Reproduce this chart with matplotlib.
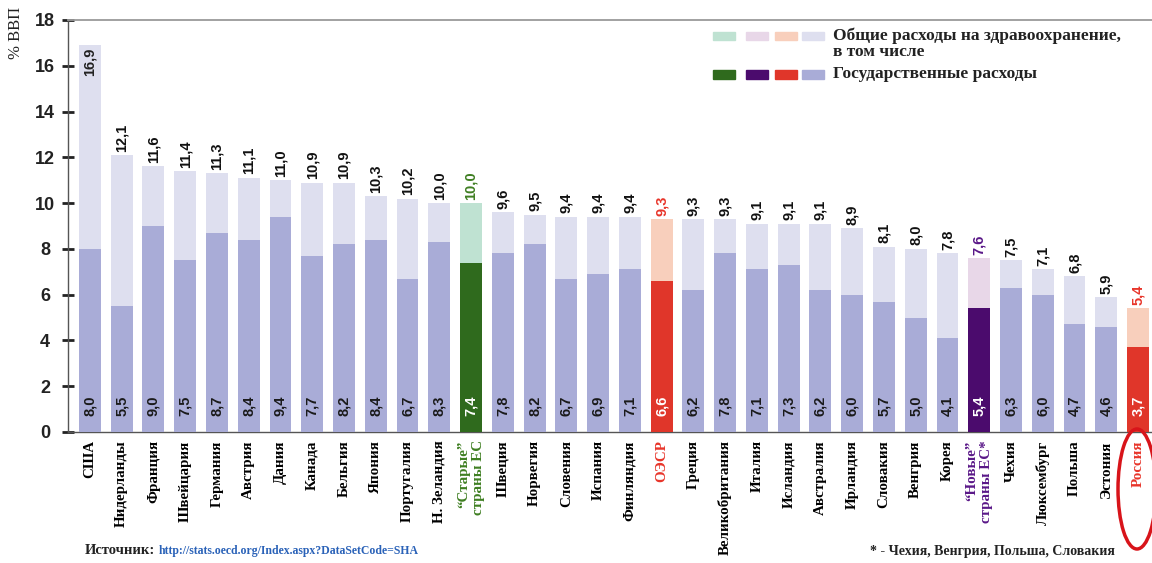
import matplotlib
matplotlib.use("Agg")
import matplotlib.pyplot as plt
from matplotlib.patches import Rectangle, Ellipse

# Health expenditure, % of GDP
countries = [
    "США", "Нидерланды", "Франция", "Швейцария", "Германия", "Австрия",
    "Дания", "Канада", "Бельгия", "Япония", "Португалия", "Н. Зеландия",
    "“Старые”\nстраны ЕС", "Швеция", "Норвегия", "Словения", "Испания",
    "Финляндия", "ОЭСР", "Греция", "Великобритания", "Италия", "Исландия",
    "Австралия", "Ирландия", "Словакия", "Венгрия", "Корея",
    "“Новые”\nстраны ЕС*", "Чехия", "Люксембург", "Польша", "Эстония",
    "Россия",
]
total_spending = [
    16.9, 12.1, 11.6, 11.4, 11.3, 11.1, 11.0, 10.9, 10.9, 10.3, 10.2, 10.0,
    10.0, 9.6, 9.5, 9.4, 9.4, 9.4, 9.3, 9.3, 9.3, 9.1, 9.1, 9.1, 8.9, 8.1,
    8.0, 7.8, 7.6, 7.5, 7.1, 6.8, 5.9, 5.4,
]
public_spending = [
    8.0, 5.5, 9.0, 7.5, 8.7, 8.4, 9.4, 7.7, 8.2, 8.4, 6.7, 8.3,
    7.4, 7.8, 8.2, 6.7, 6.9, 7.1, 6.6, 6.2, 7.8, 7.1, 7.3, 6.2, 6.0, 5.7,
    5.0, 4.1, 5.4, 6.3, 6.0, 4.7, 4.6, 3.7,
]
y_ticks = [0, 2, 4, 6, 8, 10, 12, 14, 16, 18]

# Colour scheme: (total, public, label colour) per group
LAV_TOTAL, LAV_PUBLIC = "#dedfef", "#a9acd7"
highlight = {
    "“Старые”\nстраны ЕС": ("#bfe2d2", "#2f6a1d", "#3f7f22"),
    "ОЭСР": ("#f8cfbc", "#e0362a", "#e8352a"),
    "“Новые”\nстраны ЕС*": ("#e8d7e8", "#4b0b6d", "#5a1888"),
    "Россия": ("#f8cfbc", "#e0362a", "#e8352a"),
}

SERIF = "Liberation Serif"
SANS = "Liberation Sans"

fig = plt.figure(figsize=(11.52, 5.63), dpi=100)
ax = fig.add_axes([68 / 1152, 1 - 432 / 563, 1 - 68 / 1152, 412 / 563])

x = list(range(len(countries)))
tot_colors, pub_colors, lab_colors = [], [], []
for c in countries:
    if c in highlight:
        t, p, l = highlight[c]
    else:
        t, p, l = LAV_TOTAL, LAV_PUBLIC, "#111111"
    tot_colors.append(t)
    pub_colors.append(p)
    lab_colors.append(l)

bw = 0.69
ax.bar(x, total_spending, width=bw, color=tot_colors, zorder=2)
ax.bar(x, public_spending, width=bw, color=pub_colors, zorder=3)

def fmt(v):
    return f"{v:.1f}".replace(".", ",")

for i, (tv, pv) in enumerate(zip(total_spending, public_spending)):
    col = lab_colors[i]
    if tv > 15:
        ax.text(i, tv - 0.1, fmt(tv), rotation=90, ha="center", va="top",
                fontsize=10.5, fontweight="bold", family=SANS,
                color="#222222", zorder=4)
    else:
        ax.text(i, tv + 0.15, fmt(tv), rotation=90, ha="center", va="bottom",
                fontsize=10.5, fontweight="bold", family=SANS, color=col,
                zorder=4)
    inner = "white" if countries[i] in highlight else "#1a1a1a"
    ax.text(i, 0.7, fmt(pv), rotation=90, ha="center", va="bottom",
            fontsize=10.5, fontweight="bold", family=SANS, color=inner,
            zorder=4)

ax.set_xlim(-0.69, len(countries) - 0.56)
ax.set_ylim(0, 18)

ax.set_xticks(x)
ax.set_xticklabels(countries, rotation=90, family=SERIF, fontweight="bold",
                   fontsize=10.8, va="top", ha="center", multialignment="right")
for lbl, c in zip(ax.get_xticklabels(), countries):
    if c in highlight:
        lbl.set_color(highlight[c][2])
ax.tick_params(axis="x", length=0, pad=6)

ax.set_yticks(y_ticks)
ax.set_yticklabels([str(v) for v in y_ticks], family=SANS, fontweight="bold",
                   fontsize=13, color="#222222")
for lbl in ax.get_yticklabels():
    lbl.set_horizontalalignment("center")
ax.tick_params(axis="y", direction="inout", length=9, width=2,
               color="#222222", pad=12)

ax.spines["right"].set_visible(False)
ax.spines["top"].set_color("#9a9a9a")
ax.spines["top"].set_linewidth(1.3)
ax.spines["left"].set_color("#555555")
ax.spines["bottom"].set_color("#555555")
ax.spines["left"].set_linewidth(1.0)
ax.spines["bottom"].set_linewidth(1.0)

# Y axis title
fig.text(16 / 1152, 1 - 33 / 563, "% ВВП", rotation=90, ha="center",
         va="center", family=SERIF, fontsize=12, color="#222222")

# Legend built from colour swatches
legend_light = ["#bfe2d2", "#e8d7e8", "#f8cfbc", "#dedfef"]
legend_dark = ["#2f6a1d", "#4b0b6d", "#e0362a", "#a9acd7"]
sw_x = [713, 746, 775, 802]
sw_w = 22
for xs, cl, cd in zip(sw_x, legend_light, legend_dark):
    fig.patches.append(Rectangle((xs / 1152, 1 - 40 / 563), sw_w / 1152,
                                 8 / 563, transform=fig.transFigure,
                                 color=cl, zorder=5))
    fig.patches.append(Rectangle((xs / 1152, 1 - 79 / 563), sw_w / 1152,
                                 9 / 563, transform=fig.transFigure,
                                 color=cd, zorder=5))
legend_font = dict(ha="left", va="center", family=SERIF, fontweight="bold",
                   fontsize=12.5, color="#222222")
fig.text(833 / 1152, 1 - 36 / 563, "Общие расходы на здравоохранение,",
         **legend_font)
fig.text(833 / 1152, 1 - 52 / 563, "в том числе", **legend_font)
fig.text(833 / 1152, 1 - 74 / 563, "Государственные расходы", **legend_font)

# Outline around Russia's label
ellipse = Ellipse((1137 / 1152, 1 - 489 / 563), 38 / 1152, 120 / 563,
                  transform=fig.transFigure, fill=False, edgecolor="#d8141a",
                  linewidth=2.5)
fig.patches.append(ellipse)

# Source and footnote
fig.text(85 / 1152, 1 - 551 / 563, "Источник:", ha="left", va="center",
         family=SERIF, fontweight="bold", fontsize=10.5, color="#222222")
fig.text(159 / 1152, 1 - 551 / 563,
         "http://stats.oecd.org/Index.aspx?DataSetCode=SHA", ha="left",
         va="center", family=SERIF, fontweight="bold", fontsize=8.5,
         color="#2a62b8")
fig.text(1115 / 1152, 1 - 551 / 563, "* - Чехия, Венгрия, Польша, Словакия",
         ha="right", va="center", family=SERIF, fontweight="bold", fontsize=10,
         color="#222222")

fig.savefig("out.png", dpi=100, facecolor="white")
